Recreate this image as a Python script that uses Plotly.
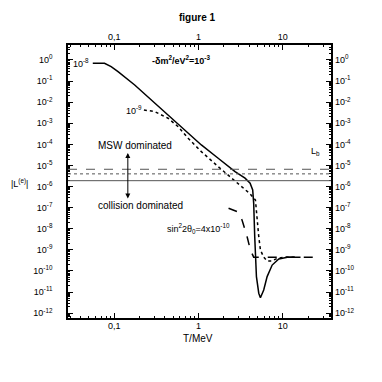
import plotly.graph_objects as go

# curva continua (10^-8)
T_solid = [0.0557, 0.0767, 0.092, 0.111, 0.175, 0.275, 0.435, 0.689, 1.08, 1.71, 2.71, 3.56, 4.09,
           4.39, 4.51, 4.64, 4.73, 4.86, 5.18, 5.42, 5.93, 6.51, 7.47, 8.95, 11.3, 16.2]
L_solid = [0.70, 0.70, 0.48, 0.279, 0.0653, 0.0127, 2.47e-3, 4.8e-4, 9.4e-5, 2.2e-5, 5.1e-6, 2.5e-6, 1.43e-6,
           6.9e-7, 1.6e-7, 4.2e-9, 4.8e-10, 5.4e-11, 8.8e-12, 5.4e-12, 1.26e-11, 5.4e-11, 1.9e-10, 3.7e-10, 4.5e-10, 4.5e-10]

# curva punteggiata (10^-9)
T_dot = [0.225, 0.303, 0.435, 0.573, 0.753, 1.08, 1.71, 2.47, 3.25, 4.09, 4.73, 4.92, 5.18, 5.42,
         5.93, 6.51, 7.47, 8.5, 10.3, 14.0]
L_dot = [4.3e-3, 3.55e-3, 1.73e-3, 6.9e-4, 1.95e-4, 4.5e-5, 8.8e-6, 2.5e-6, 9.9e-7, 4.5e-7, 2.3e-7, 2.6e-8,
         4.2e-9, 9.9e-10, 4.5e-10, 3.0e-10, 3.0e-10, 3.9e-10, 4.5e-10, 4.5e-10]

# curva tratteggiata (sin^2 2theta_0 = 4x10^-10)
T_dash = [2.27, 2.86, 3.28, 3.77, 4.12, 4.51, 23.2]
L_dash = [9.4e-8, 6.5e-8, 2.6e-8, 4.2e-9, 9.9e-10, 4.5e-10, 4.5e-10]

# livelli L_b
Lb_solid = 1.9e-6
Lb_dot = 4.0e-6
Lb_dash = 6.6e-6

x_ticks = [0.1, 1, 10]
x_ticktext = ['0,1', '1', '10']
y_ticks = [10.0 ** -k for k in range(0, 13)]
y_ticktext = ['10<sup>0</sup>'] + ['10<sup>-%d</sup>' % k for k in range(1, 13)]

x_minor = [m * 10.0 ** e for e in (-2, -1, 0, 1) for m in range(2, 10) if 0.028 < m * 10.0 ** e < 37]
y_minor = [m * 10.0 ** e for e in range(-13, 1) for m in range(2, 10) if m * 10.0 ** e < 5]

FONT = 'Liberation Sans, Arial, sans-serif'
XR = [-1.548, 1.571]
YR = [-12.23, 0.71]

# la pagina ha un margine di 8px: la figura e' 366x366 e le coordinate sono spostate
OFF = 8
W = 382 - 2 * OFF
# posizioni in pixel dell'area del grafico (coordinate della finestra)
L0, R0, T0, B0 = 68.3, 330.7, 45, 318


def px(x):
    return (x - L0) / (R0 - L0)


def py(y):
    return (B0 - y) / (B0 - T0)


fig = go.Figure()
line_style = dict(color='black', width=1.5)
fig.add_trace(go.Scatter(x=T_solid, y=L_solid, mode='lines', line=line_style))
fig.add_trace(go.Scatter(x=T_dot, y=L_dot, mode='lines', line=dict(line_style, dash='dot')))
fig.add_trace(go.Scatter(x=T_dash, y=L_dash, mode='lines', line=dict(line_style, dash='dash')))
# traccia invisibile per gli assi superiore e destro
fig.add_trace(go.Scatter(x=[T_solid[0]], y=[L_solid[0]], mode='markers', opacity=0,
                         xaxis='x2', yaxis='y2', hoverinfo='skip'))

fig.add_hline(y=Lb_solid, line=dict(color='#555', width=1))
fig.add_hline(y=Lb_dot, line=dict(color='#555', width=1, dash='dot'))
fig.add_hline(y=Lb_dash, line=dict(color='#555', width=1, dash='dash'))

tickfont = dict(family=FONT, size=9, color='black')
common = dict(type='log', ticks='inside', ticklen=5, tickwidth=1, tickcolor='black',
              showgrid=False, zeroline=False, tickfont=tickfont, automargin=False)

fig.update_layout(
    width=W, height=W,
    margin=dict(l=L0 - OFF, r=W - (R0 - OFF), t=T0 - OFF, b=W - (B0 - OFF), autoexpand=False),
    paper_bgcolor='white', plot_bgcolor='white',
    showlegend=False,
    font=dict(family=FONT, color='black'),
    xaxis=dict(common, range=XR, tickvals=x_ticks, ticktext=x_ticktext,
               showline=True, linecolor='black', linewidth=1.5, mirror='allticks',
               ticklabelstandoff=-2,
               minor=dict(ticks='inside', ticklen=2.5, tickcolor='black', tickvals=x_minor)),
    yaxis=dict(common, range=YR, tickvals=y_ticks, ticktext=y_ticktext,
               showline=True, linecolor='black', linewidth=1.5, mirror='allticks',
               ticklabelstandoff=12,
               minor=dict(ticks='inside', ticklen=2.5, tickcolor='black', tickvals=y_minor)),
    xaxis2=dict(common, range=XR, tickvals=x_ticks, ticktext=x_ticktext, overlaying='x',
                side='top', showline=False, ticklen=0, ticklabelstandoff=2),
    yaxis2=dict(common, range=YR, tickvals=y_ticks, ticktext=y_ticktext, overlaying='y',
                side='right', showline=False, ticklen=0, ticklabelstandoff=3),
)

ann = [
    dict(text='<b>figure 1</b>', x=px(198), y=py(18), size=10),
    dict(text='<b>-δm<sup>2</sup>/eV<sup>2</sup>=10<sup>-3</sup></b>', x=px(181), y=py(60), size=9),
    dict(text='10<sup>-8</sup>', x=px(81), y=py(63), size=9),
    dict(text='10<sup>-9</sup>', x=px(134), y=py(110), size=9),
    dict(text='MSW dominated', x=px(135), y=py(145), size=10),
    dict(text='collision dominated', x=px(141), y=py(205), size=10),
    dict(text='sin<sup>2</sup>2θ<sub>0</sub>=4x10<sup>-10</sup>', x=px(199), y=py(228), size=9),
    dict(text='L<sub>b</sub>', x=px(315), y=py(151), size=9),
    dict(text='|L<sup>(e)</sup>|', x=px(20), y=py(183), size=9),
    dict(text='T/MeV', x=px(198), y=py(338), size=10),
]
for a in ann:
    fig.add_annotation(text=a['text'], x=a['x'], y=a['y'], xref='paper', yref='paper',
                       xanchor='center', yanchor='middle', showarrow=False,
                       font=dict(family=FONT, size=a['size'], color='black'))

# freccia doppia
fig.add_annotation(x=px(128), y=py(153), ax=0, ay=47, xref='paper', yref='paper',
                   axref='pixel', ayref='pixel', text='', showarrow=True,
                   arrowhead=2, startarrowhead=2, arrowside='end+start',
                   arrowsize=1, arrowwidth=1, arrowcolor='black')

fig.write_html("out.html")
